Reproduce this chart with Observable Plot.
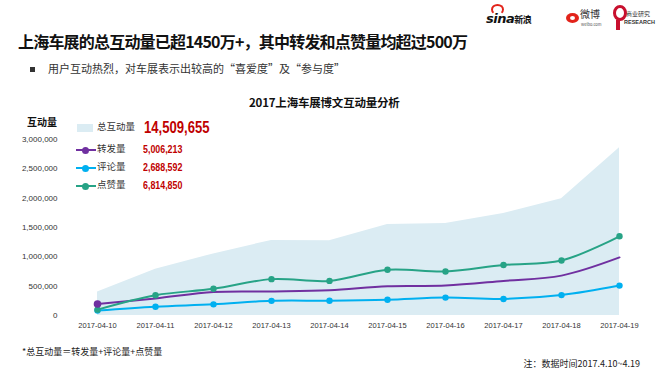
<!DOCTYPE html>
<html>
<head>
<meta charset="utf-8">
<script src="https://cdn.jsdelivr.net/npm/d3@7"></script>
<script src="https://cdn.jsdelivr.net/npm/@observablehq/plot@0.6"></script>
<style>
  html, body { margin: 0; padding: 0; background: #fff; }
  #wrap { position: relative; width: 660px; height: 372px; overflow: hidden;
          font-family: "Noto Sans CJK SC", "Noto Sans", sans-serif; color: #222; }
  .abs { position: absolute; white-space: nowrap; line-height: 1; }
  .num { font-family: "Liberation Sans", Arial, sans-serif; font-weight: bold; color: #c00000;
         transform: scaleX(0.77); transform-origin: left center; }
  #chart { position: absolute; left: 0; top: 0; }
</style>
</head>
<body>
<div id="wrap">
  <div id="chart"></div>

  <!-- logos (approximated) -->
  <div class="abs" style="left:486px; top:12px; font-family:'DejaVu Sans'; font-style:italic; font-weight:bold; font-size:13px; color:#111; letter-spacing:-0.5px;">sina<span style="font-style:normal; font-size:9px; font-family:'Noto Sans CJK SC';">新浪</span></div>
  <div class="abs" style="left:491px; top:4px; width:9px; height:7px; border-radius:50%; border:2px solid #e2231a; border-bottom-color:transparent;"></div>
  <div class="abs" style="left:566px; top:13px; width:13px; height:10px; border-radius:50%; background:#e2231a;"></div>
  <div class="abs" style="left:570px; top:16px; width:5px; height:4px; border-radius:50%; background:#fff;"></div>
  <div class="abs" style="left:580px; top:9px; font-size:10px; color:#333;">微博</div>
  <div class="abs" style="left:581px; top:22px; font-size:4px; color:#555;">weibo.com</div>
  <div class="abs" style="left:613px; top:5px; width:8px; height:10px; border-radius:50%; border:3px solid #c8102e;"></div>
  <div class="abs" style="left:616px; top:20px; width:4px; height:10px; background:#c8102e;"></div>
  <div class="abs" style="left:626px; top:11px; font-size:6px; color:#333;">商业研究</div>
  <div class="abs" style="left:624px; top:20px; font-size:5.5px; font-weight:bold; color:#333; font-family:'Liberation Sans';">RESEARCH</div>

  <!-- titles -->
  <div class="abs" style="left:18px; top:33px; font-size:16px; font-weight:bold; color:#111; letter-spacing:-0.8px;">上海车展的总互动量已超1450万+，其中转发和点赞量均超过500万</div>
  <div class="abs" style="left:30px; top:67px; width:5px; height:5px; background:#333;"></div>
  <div class="abs" style="left:48px; top:63px; font-size:11px; color:#333;">用户互动热烈，对车展表示出较高的“喜爱度”及“参与度”</div>
  <div class="abs" style="left:249px; top:97px; font-size:11.5px; font-weight:bold; color:#111; letter-spacing:-0.2px;">2017上海车展博文互动量分析</div>
  <div class="abs" style="left:27px; top:117px; font-size:10px; font-weight:bold; color:#111;">互动量</div>

  <!-- legend -->
  <div id="legend"></div>

  <!-- footnotes -->
  <div class="abs" style="left:22px; top:347px; font-size:9px; color:#222;">*总互动量＝转发量+评论量+点赞量</div>
  <div class="abs" style="right:20px; top:359px; font-size:9px; color:#222;">注：数据时间2017.4.10~4.19</div>
</div>

<script>
// ---- data ----
const dates = ["2017-04-10","2017-04-11","2017-04-12","2017-04-13","2017-04-14",
               "2017-04-15","2017-04-16","2017-04-17","2017-04-18","2017-04-19"];
const totalInteractions = [400000, 790000, 1050000, 1280000, 1275000, 1550000, 1570000, 1740000, 1990000, 2860000];
const reposts  = [195000, 290000, 400000, 410000, 430000, 500000, 510000, 590000, 680000, 990000];
const comments = [85000, 150000, 190000, 250000, 252000, 268000, 305000, 282000, 348000, 510000];
const likes    = [100000, 346000, 455000, 620000, 590000, 780000, 750000, 860000, 937000, 1350000];
const seriesNames = ["总互动量", "转发量", "评论量", "点赞量"];
const seriesTotals = ["14,509,655", "5,006,213", "2,688,592", "6,814,850"];
const yTicks = [0, 500000, 1000000, 1500000, 2000000, 2500000, 3000000];

const colors = { area: "#dbecf3", reposts: "#7030a0", comments: "#00b0f0", likes: "#27a386" };

const totalData = dates.map((d, i) => ({date: d, value: totalInteractions[i]}));
const repData = dates.map((d, i) => ({date: d, value: reposts[i]}));
const comData = dates.map((d, i) => ({date: d, value: comments[i]}));
const likData = dates.map((d, i) => ({date: d, value: likes[i]}));

const chart = Plot.plot({
  width: 660,
  height: 372,
  marginLeft: 94,
  marginRight: 38,
  marginTop: 139,
  marginBottom: 57,
  style: { fontFamily: "'Liberation Sans', 'DejaVu Sans', sans-serif", color: "#333", background: "transparent" },
  x: { type: "point", domain: dates, padding: 0 },
  y: { domain: [0, 3000000] },
  marks: [
    Plot.areaY(totalData, { x: "date", y: "value", fill: colors.area }),
    Plot.axisY({ ticks: yTicks, tickSize: 0, tickPadding: 37, tickFormat: d3.format(","), fontSize: 8, label: null, fill: "#333" }),
    Plot.axisX({ tickSize: 0, tickPadding: 7, fontSize: 7.5, label: null, fill: "#333" }),
    Plot.line(comData, { x: "date", y: "value", stroke: colors.comments, strokeWidth: 2, curve: "catmull-rom" }),
    Plot.line(repData, { x: "date", y: "value", stroke: colors.reposts, strokeWidth: 2, curve: "catmull-rom" }),
    Plot.line(likData, { x: "date", y: "value", stroke: colors.likes, strokeWidth: 2, curve: "catmull-rom" }),
    Plot.dot(comData, { x: "date", y: "value", fill: colors.comments, r: 3.2 }),
    Plot.dot(likData, { x: "date", y: "value", fill: colors.likes, r: 3.2 }),
    Plot.dot(repData.slice(0, 1), { x: "date", y: "value", fill: colors.reposts, r: 3.8 })
  ]
});
document.getElementById("chart").appendChild(chart);

// ---- legend ----
const legend = document.getElementById("legend");
const legendColors = [colors.area, colors.reposts, colors.comments, colors.likes];
const rowY = [128, 150, 168, 186];
seriesNames.forEach((name, i) => {
  const y = rowY[i];
  if (i === 0) {
    const sw = document.createElement("div");
    sw.className = "abs";
    sw.style.cssText = `left:77px; top:${y - 4}px; width:16px; height:8px; background:${legendColors[i]};`;
    legend.appendChild(sw);
  } else {
    const ln = document.createElement("div");
    ln.className = "abs";
    ln.style.cssText = `left:76px; top:${y - 1}px; width:20px; height:2px; background:${legendColors[i]};`;
    legend.appendChild(ln);
    const dt = document.createElement("div");
    dt.className = "abs";
    dt.style.cssText = `left:82px; top:${y - 3.5}px; width:7px; height:7px; border-radius:50%; background:${legendColors[i]};`;
    legend.appendChild(dt);
  }
  const t = document.createElement("div");
  t.className = "abs";
  t.style.cssText = `left:97px; top:${y - 6}px; font-size:9.5px; color:#333;`;
  t.textContent = name;
  legend.appendChild(t);
  const v = document.createElement("div");
  v.className = "abs num";
  if (i === 0) {
    v.style.cssText = `left:144px; top:${y - 9}px; font-size:17px;`;
  } else {
    v.style.cssText = `left:143px; top:${y - 6}px; font-size:11.5px;`;
  }
  v.textContent = seriesTotals[i];
  legend.appendChild(v);
});
</script>
</body>
</html>
